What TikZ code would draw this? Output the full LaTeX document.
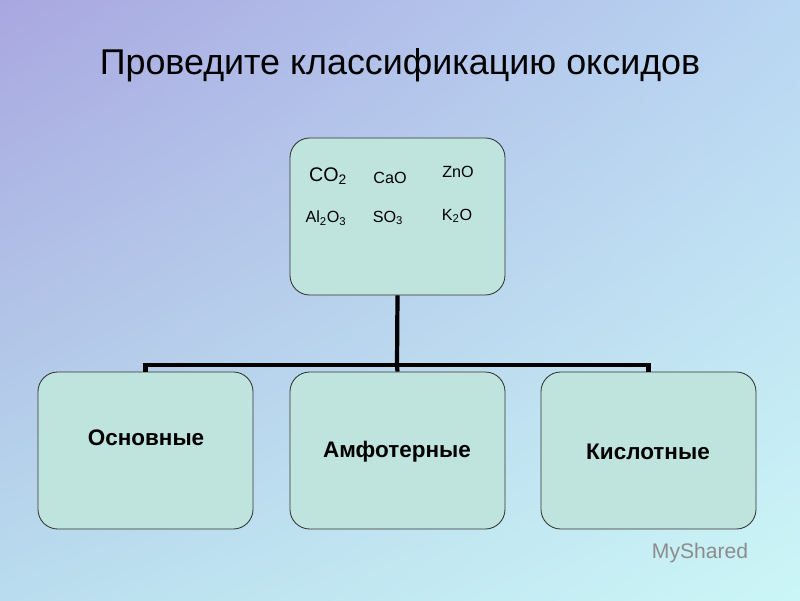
\documentclass[tikz,border=0pt]{standalone}
\usepackage{fontspec}
\setmainfont{Liberation Sans}
\usetikzlibrary{shadings}
\definecolor{bgtl}{HTML}{A9A7E0}
\definecolor{bgtr}{HTML}{B9D6F2}
\definecolor{bgbl}{HTML}{B9DDEE}
\definecolor{bgbr}{HTML}{CBF6F6}
\definecolor{boxfill}{HTML}{BFE3DD}
\newlength{\pxu}\setlength{\pxu}{0.25mm}
\tikzset{
  oxbox/.style={draw=black!80, fill=boxfill, rounded corners=14pt, line width=0.6pt,
    minimum width=215\pxu, minimum height=157\pxu, inner sep=0pt},
  formula/.style={font=\fontsize{11.5}{13}\selectfont, inner sep=0pt},
  kind/.style={font=\fontsize{16}{18}\selectfont\bfseries},
  link/.style={line width=3pt, black}
}
\begin{document}
\begin{tikzpicture}[x=0.25mm, y=-0.25mm]
  \shade[upper left=bgtl, upper right=bgtr, lower left=bgbl, lower right=bgbr] (0,0) rectangle (800,600);
  \useasboundingbox (0,0) rectangle (800,600);
  \node (title) at (400,65) {\fontsize{25.5}{30}\selectfont Проведите классификацию оксидов};
  % top box with oxides
  \node[oxbox] (all) at (397.5,216.5) {};
  \node[formula, font=\fontsize{14}{16}\selectfont] (co2) at (328,176) {CO\textsubscript{2}};
  \node[formula] (cao) at (390,178) {CaO};
  \node[formula] (zno) at (458,172) {ZnO};
  \node[formula] (al2o3) at (326,218) {Al\textsubscript{2}O\textsubscript{3}};
  \node[formula] (so3) at (388,218) {SO\textsubscript{3}};
  \node[formula] (k2o) at (457,216) {K\textsubscript{2}O};
  % three classes
  \node[oxbox] (basic) at (145.5,450.5) {};
  \node[oxbox] (amph) at (397.5,450.5) {};
  \node[oxbox] (acid) at (648.5,450.5) {};
  \node[kind] at (146,438) {Основные};
  \node[kind] at (397,452) {Амфотерные};
  \node[kind] at (648,452) {Кислотные};
  % connectors
  \coordinate (fork) at (397,365);
  \draw[link] (all.south) -- (fork);
  \draw[link] (basic.north) -- (basic.north |- fork) -- (acid.north |- fork) -- (acid.north);
  \draw[link] (fork) -- (amph.north);
  \node[text=black!45, font=\fontsize{15}{17}\selectfont] (mark) at (700,553) {MyShared};
\end{tikzpicture}
\end{document}
